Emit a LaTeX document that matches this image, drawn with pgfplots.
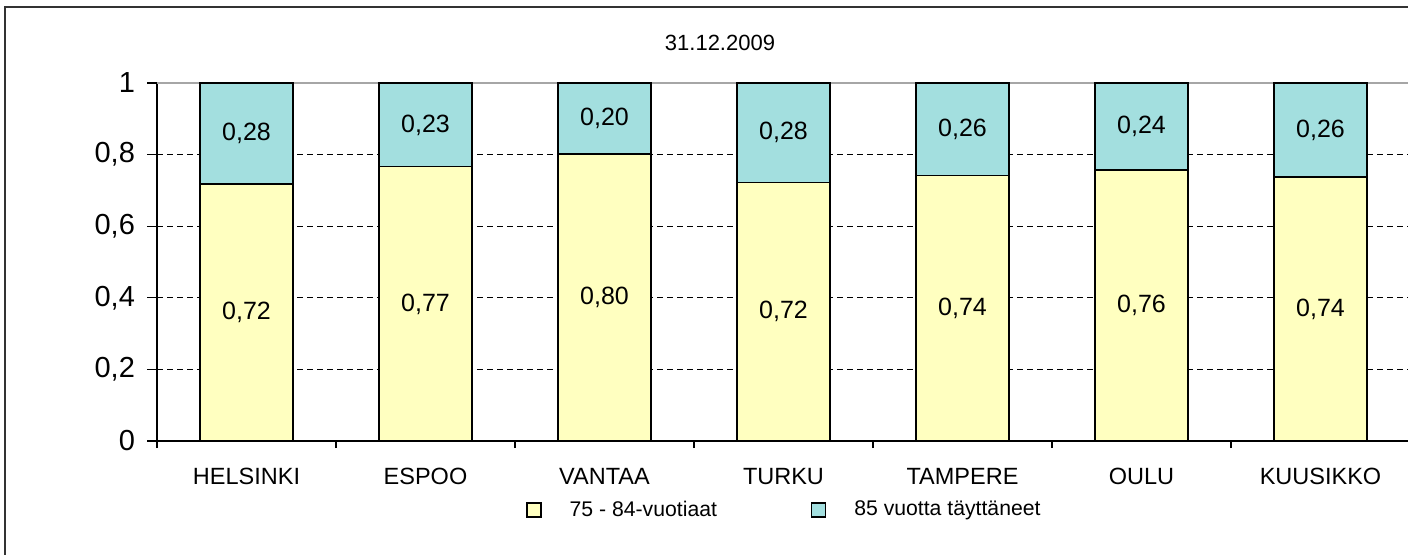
\documentclass[border=0pt]{standalone}
\usepackage{fontspec}
\setmainfont{Liberation Sans}
\usepackage{pgfplots}
\usepackage{pgfplotstable}
\pgfplotsset{compat=1.18}
\definecolor{barY}{HTML}{FFFFC0}
\definecolor{barT}{HTML}{A3DFDF}
\pgfplotstableread{
x a b
0 0.718 0.282
1 0.766 0.234
2 0.802 0.198
3 0.722 0.278
4 0.741 0.259
5 0.757 0.243
6 0.737 0.263
}\datatable
\pgfplotsset{
  mylegend/.style={legend image code/.code={\draw[##1,line width=0.6pt] (0pt,-3.5pt) rectangle (7pt,3.5pt); \path (19pt,0pt);}},
}
\begin{document}
\begin{tikzpicture}
\path[use as bounding box] (0pt,0pt) rectangle (704pt,-277.5pt);
\draw[line width=0.9pt, black!80] (2.5pt,-3.5pt) rectangle (760pt,-300pt);
\node[font=\fontsize{11}{13}\selectfont] at (360pt,-21.5pt) {31.12.2009};
\begin{axis}[
  at={(78.5pt,-220.5pt)}, anchor=south west,
  scale only axis, width=626.5pt, height=179pt,
  xmin=-0.5, xmax=6.5, ymin=0, ymax=1,
  clip=false,
  ybar stacked, bar width=46.5pt,
  axis x line*=bottom, axis y line*=left,
  axis line style={-, black, line width=0.6pt},
  ytick={0,0.2,0.4,0.6,0.8},
  extra y ticks={1},
  extra y tick style={major grid style={gray!70, solid, line width=0.8pt}},
  yticklabel style={xshift=-2.5pt, font=\fontsize{14.5}{16}\selectfont, /pgf/number format/.cd, use comma, fixed, precision=1, assume math mode=true},
  tick align=outside, major tick length=5pt, minor tick length=3.5pt,
  tick style={black, line width=0.6pt},
  xtick={0,...,6},
  xticklabels={HELSINKI,ESPOO,VANTAA,TURKU,TAMPERE,OULU,KUUSIKKO},
  xticklabel style={yshift=-5pt, font=\fontsize{11.75}{14}\selectfont},
  major x tick style={draw=none},
  minor xtick={-0.5,0.5,...,6.5},
  minor x tick style={black, line width=0.6pt},
  ymajorgrids,
  major grid style={black, line width=0.5pt, dash pattern=on 3pt off 2pt},
  point meta=explicit,
  nodes near coords={\pgfmathprintnumber[use comma, fixed, fixed zerofill, precision=2, assume math mode=true]{\pgfplotspointmeta}},
  every node near coord/.append style={anchor=center, font=\fontsize{12.5}{14}\selectfont},
  legend columns=2,
  legend style={at={(0.2945,-0.1927)}, anchor=west, draw=none, fill=none, inner sep=0pt, font=\fontsize{10.6}{13}\selectfont, /tikz/every even column/.append style={column sep=45pt}},
]
\addplot[fill=barY, draw=black, line width=0.7pt, mylegend]
  table[x=x, y=a, meta=a] {\datatable};
\addplot[fill=barT, draw=black, line width=0.7pt, mylegend]
  table[x=x, y=b, meta=b] {\datatable};
\legend{75 - 84-vuotiaat, 85 vuotta täyttäneet}
\end{axis}
\end{tikzpicture}
\end{document}
